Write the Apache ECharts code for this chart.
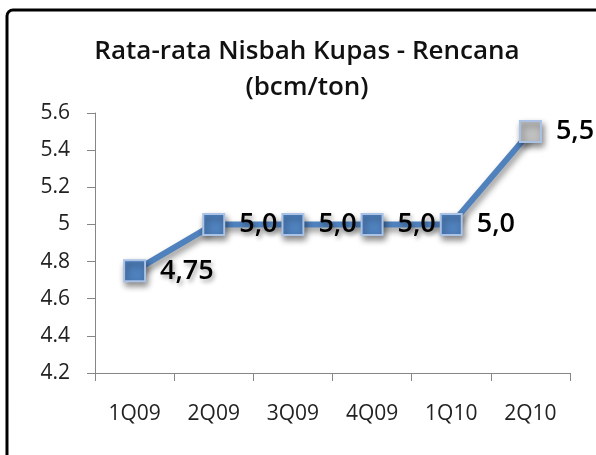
<!DOCTYPE html>
<html>
<head>
<meta charset="utf-8">
<script src="https://cdn.jsdelivr.net/npm/echarts@6/dist/echarts.min.js"></script>
<style>
  html, body { margin: 0; padding: 0; background: #fff; }
  #chart { width: 596px; height: 455px; }
</style>
</head>
<body>
<div id="chart"></div>
<script type="text/javascript">
    // data
    var quarters = ['1Q09', '2Q09', '3Q09', '4Q09', '1Q10', '2Q10'];
    var nisbah = [4.75, 5.0, 5.0, 5.0, 5.0, 5.5];
    var nisbahLabels = ['4,75', '5,0', '5,0', '5,0', '5,0', '5,5'];

    var dom = document.getElementById('chart');
    var myChart = echarts.init(dom);
    var font = 'Open Sans';

    var points = nisbah.map(function (v, i) {
        var last = i === nisbah.length - 1;
        var item = {
            value: v,
            label: {
                formatter: nisbahLabels[i],
                textShadowColor: last || i === 4 ? 'transparent' : 'rgba(0,0,0,0.35)',
                textShadowBlur: 4,
                textShadowOffsetX: 2,
                textShadowOffsetY: 3
            }
        };
        if (last) {
            item.itemStyle = { color: '#c0c0c0' };
        }
        return item;
    });

    var option = {
        backgroundColor: '#fff',
        animation: false,
        title: {
            text: 'Rata-rata Nisbah Kupas - Rencana\n(bcm/ton)',
            left: 302,
            top: 29,
            textAlign: 'center',
            textStyle: {
                fontFamily: font,
                fontSize: 26,
                fontWeight: 600,
                color: '#111',
                lineHeight: 36
            }
        },
        graphic: [{
            type: 'rect',
            shape: { x: 7, y: 10, width: 700, height: 600, r: 6 },
            style: { fill: 'none', stroke: '#000', lineWidth: 3 },
            silent: true
        }],
        grid: { left: 95, right: 26, top: 113, bottom: 82 },
        xAxis: {
            type: 'category',
            data: quarters,
            boundaryGap: true,
            axisLine: { lineStyle: { color: '#868686', width: 1 } },
            axisTick: { show: true, length: 8, lineStyle: { color: '#868686' } },
            axisLabel: { margin: 31, color: '#222', fontFamily: font, fontSize: 21 }
        },
        yAxis: {
            type: 'value',
            min: 4.2,
            max: 5.6,
            interval: 0.2,
            splitLine: { show: false },
            axisLine: { show: true, lineStyle: { color: '#868686', width: 1 } },
            axisTick: { show: true, length: 8, lineStyle: { color: '#868686' } },
            axisLabel: {
                margin: 25,
                color: '#222',
                fontFamily: font,
                fontSize: 21,
                formatter: function (v) { return +v.toFixed(1) + ''; }
            }
        },
        series: [{
            type: 'line',
            data: points,
            symbol: 'rect',
            symbolSize: 21,
            lineStyle: {
                color: '#4f81bd',
                width: 6,
                shadowColor: 'rgba(0,0,0,0.45)',
                shadowBlur: 6,
                shadowOffsetX: 2,
                shadowOffsetY: 4
            },
            itemStyle: {
                color: '#4f81bd',
                borderColor: '#a9c2e6',
                borderWidth: 2,
                shadowColor: 'rgba(0,0,0,0.45)',
                shadowBlur: 6,
                shadowOffsetX: 2,
                shadowOffsetY: 4
            },
            label: {
                show: true,
                position: 'right',
                distance: 14,
                color: '#000',
                fontFamily: font,
                fontSize: 27,
                fontWeight: 600
            },
            z: 3
        }]
    };

    if (option && typeof option === 'object') {
        myChart.setOption(option, true);
    }
</script>
</body>
</html>
